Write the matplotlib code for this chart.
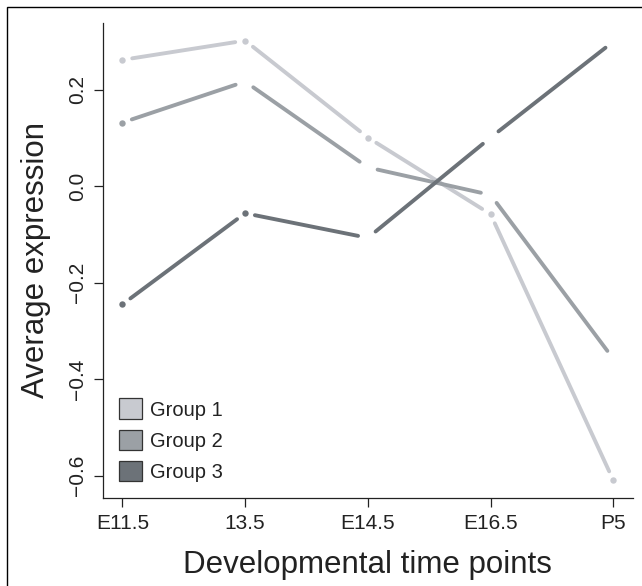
import numpy as np
import matplotlib
matplotlib.use("Agg")
import matplotlib.pyplot as plt
from matplotlib.patches import Patch, Rectangle

plt.rcParams['font.family'] = ['Liberation Sans', 'DejaVu Sans']

# data
time_points = ['E11.5', '13.5', 'E14.5', 'E16.5', 'P5']
group_names = ['Group 1', 'Group 2', 'Group 3']
group1 = [0.262, 0.302, 0.101, -0.058, -0.610]
group2 = [0.132, 0.217, 0.039, -0.018, -0.358]
group3 = [-0.245, -0.056, -0.107, 0.101, 0.300]
# points that show a dot in the original
dots1 = [0, 1, 2, 3, 4]
dots2 = [0]
dots3 = [0, 1]

colors = ['#c8cad0', '#9ba0a5', '#6c7278']

fig = plt.figure(figsize=(6.42, 5.86), dpi=100)
ax = fig.add_axes([102.7 / 642, 1 - 498 / 586, (633 - 102.7) / 642, (498 - 23) / 586])

x = np.arange(1, len(time_points) + 1)
allv = np.array(group1 + group2 + group3)
xr = x.max() - x.min()
yr = allv.max() - allv.min()
ax.set_xlim(x.min() - 0.04 * xr, x.max() + 0.04 * xr)
ax.set_ylim(allv.min() - 0.04 * yr, allv.max() + 0.04 * yr)


def draw_gapped(ax, xs, ys, color, gap=10):
    # R type="b" style: segments stop short of each point
    pts = ax.transData.transform(np.column_stack([xs, ys]))
    inv = ax.transData.inverted()
    for p0, p1 in zip(pts[:-1], pts[1:]):
        d = p1 - p0
        u = d / np.hypot(*d)
        a, b = inv.transform([p0 + u * gap, p1 - u * gap])
        ax.plot([a[0], b[0]], [a[1], b[1]], color=color, lw=2.8,
                solid_capstyle='round', zorder=2)


for vals, dots, c in zip([group1, group2, group3], [dots1, dots2, dots3], colors):
    draw_gapped(ax, x, vals, c)
    ax.plot(x[dots], np.array(vals)[dots], 'o', color=c, ms=4.6, mec='none', zorder=3)

ax.spines['top'].set_visible(False)
ax.spines['right'].set_visible(False)
for s in ['left', 'bottom']:
    ax.spines[s].set_linewidth(0.9)
    ax.spines[s].set_color('#222222')

ax.set_xticks(x)
ax.set_xticklabels(time_points)
yt = [-0.6, -0.4, -0.2, 0.0, 0.2]
ax.set_yticks(yt)
ax.set_yticklabels([f'{v:.1f}'.replace('-', '\u2212') for v in yt], rotation=90, va='center')
ax.tick_params(axis='both', length=6.5, width=0.9, color='#222222', labelsize=15,
               labelcolor='#222222')
ax.tick_params(axis='x', pad=5)
ax.tick_params(axis='y', pad=5)

ax.set_xlabel('Developmental time points', fontsize=22.5, color='#222222', va='baseline')
ax.xaxis.set_label_coords(0.5, (498 - 573) / 475)
ax.set_ylabel('Average expression', fontsize=22.5, color='#222222', va='baseline')
ax.yaxis.set_label_coords((44 - 102.7) / 530.3, 0.5)

handles = [Patch(facecolor=c, edgecolor='#333333', lw=0.9) for c in colors]
ax.legend(handles, group_names, loc='lower left', bbox_to_anchor=(0.0, 0.0),
          frameon=False, fontsize=14.5, handlelength=1.15, handleheight=1.2,
          handletextpad=0.4, labelspacing=0.5, borderaxespad=0.4,
          labelcolor='#222222')

# outer frame (left/top visible, rest cut off)
fig.patches.append(Rectangle((7 / 642, -0.05), 1.2, 1 - 7 / 586 + 0.05,
                             transform=fig.transFigure, fill=False,
                             edgecolor='black', lw=1.0))

fig.savefig('out.png', dpi=100)
